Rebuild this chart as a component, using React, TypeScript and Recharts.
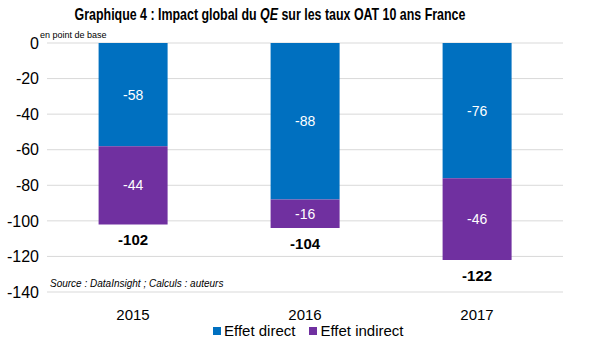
import { BarChart, Bar, XAxis, YAxis, CartesianGrid, LabelList } from "recharts";

const years = ["2015", "2016", "2017"];
const direct = [-58, -88, -76];
const indirect = [-44, -16, -46];
const totals = [-102, -104, -122];
const yTicks = [0, -20, -40, -60, -80, -100, -120, -140];

const BLUE = "#0070C0";
const PURPLE = "#7030A0";
const FONT = "Arial, 'Liberation Sans', sans-serif";

const data = years.map((year, i) => ({
  year,
  direct: direct[i],
  indirect: indirect[i],
  total: totals[i],
}));

const TotalLabel = (props: any) => {
  const { x, y, width, height, index } = props;
  const bottom = Math.max(y, y + height);
  return (
    <text
      x={x + width / 2}
      y={bottom + 17}
      textAnchor="middle"
      dominantBaseline="middle"
      fontSize={15}
      fontWeight="bold"
      fill="#000"
      fontFamily={FONT}
    >
      {totals[index]}
    </text>
  );
};

const legendItems = [
  { label: "Effet direct", color: BLUE },
  { label: "Effet indirect", color: PURPLE },
];

export default function App() {
  return (
    <div style={{ position: "absolute", left: 0, top: 0, width: 594, height: 355, background: "#fff" }}>
      <div
        style={{
          position: "absolute",
          top: 5,
          left: 270,
          width: "max-content",
          whiteSpace: "nowrap",
          transform: "translateX(-50%) scaleX(0.73)",
          fontFamily: FONT,
          fontWeight: "bold",
          fontSize: 17,
          color: "#000",
        }}
      >
        Graphique 4 : Impact global du <i>QE</i> sur les taux OAT 10 ans France
      </div>
      <div
        style={{
          position: "absolute",
          top: 30,
          left: 40,
          fontFamily: FONT,
          fontSize: 9,
          color: "#000",
        }}
      >
        en point de base
      </div>
      <div
        style={{
          position: "absolute",
          top: 278,
          left: 50,
          fontFamily: FONT,
          fontSize: 10,
          fontStyle: "italic",
          color: "#000",
        }}
      >
        Source : DataInsight ; Calculs : auteurs
      </div>
      <div
        style={{
          position: "absolute",
          top: 322,
          left: 213,
          display: "flex",
          gap: 14,
          fontFamily: FONT,
          fontSize: 15,
          color: "#000",
          whiteSpace: "nowrap",
        }}
      >
        {legendItems.map((it) => (
          <span key={it.label} style={{ display: "flex", alignItems: "center" }}>
            <span style={{ width: 8, height: 8, background: it.color, marginRight: 3 }} />
            {it.label}
          </span>
        ))}
      </div>
      <BarChart
        width={594}
        height={355}
        data={data}
        margin={{ top: 43, right: 31, left: 0, bottom: 33 }}
        barCategoryGap="30%"
      >
        <CartesianGrid vertical={false} stroke="#d9d9d9" />
        <XAxis
          dataKey="year"
          height={30}
          axisLine={false}
          tickLine={false}
          tickMargin={11}
          tick={{ fontSize: 15, fill: "#000", fontFamily: FONT }}
        />
        <YAxis
          type="number"
          domain={[-140, 0]}
          ticks={yTicks}
          interval={0}
          width={47}
          axisLine={false}
          tickLine={false}
          tick={{ fontSize: 16, fill: "#000", fontFamily: FONT }}
        />
        <Bar dataKey="direct" stackId="a" fill={BLUE} isAnimationActive={false}>
          <LabelList dataKey="direct" position="center" fill="#fff" fontSize={14} fontFamily={FONT} />
        </Bar>
        <Bar dataKey="indirect" stackId="a" fill={PURPLE} isAnimationActive={false}>
          <LabelList dataKey="indirect" position="center" fill="#fff" fontSize={14} fontFamily={FONT} />
          <LabelList dataKey="total" content={<TotalLabel />} />
        </Bar>
      </BarChart>
    </div>
  );
}
